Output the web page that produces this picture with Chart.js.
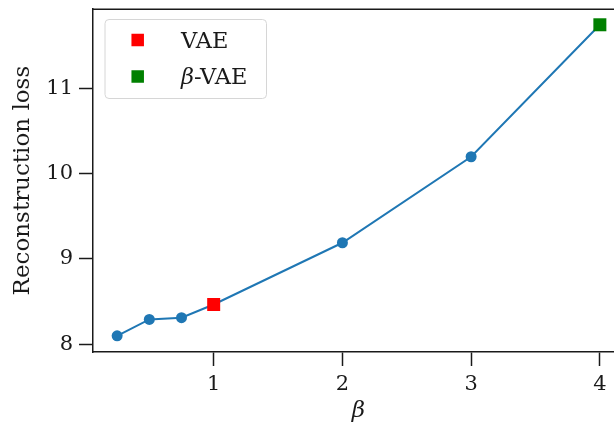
<!DOCTYPE html>
<html>
<head>
<meta charset="utf-8">
<script src="https://cdn.jsdelivr.net/npm/chart.js@4/dist/chart.umd.min.js"></script>
<style>
html,body{margin:0;padding:0;background:#fff;overflow:hidden;width:614px;height:427px;}
#wrap{width:614px;height:427px;overflow:hidden;position:relative;}
canvas{display:block;}
</style>
</head>
<body>
<div id="wrap"><canvas id="c" width="640" height="427" style="width:640px;height:427px"></canvas></div>
<script>
// Data
const betas = [0.25, 0.5, 0.75, 1, 2, 3, 4];
const recLoss = [8.097, 8.29, 8.31, 8.465, 9.19, 10.20, 11.75];
const vaePoint = [{x: 1, y: 8.465}];
const betaVaePoint = [{x: 4, y: 11.75}];
const xTicks = [1, 2, 3, 4];
const yTicks = [8, 9, 10, 11];
const seriesLabels = ['VAE', 'β-VAE'];

const FONT = "'DejaVu Serif', serif";
const INK = '#1a1a1a';

const spinePlugin = {
  id: 'spines',
  afterDatasetsDraw(chart) {
    const {ctx, chartArea} = chart;
    ctx.save();
    ctx.strokeStyle = INK;
    ctx.lineWidth = 1.5;
    ctx.beginPath();
    ctx.moveTo(chartArea.left - 0.75, chartArea.top);
    ctx.lineTo(chartArea.right, chartArea.top);
    ctx.stroke();
    ctx.restore();
  }
};

const legendPlugin = {
  id: 'boxLegend',
  afterDraw(chart) {
    const ctx = chart.ctx;
    const ds = chart.data.datasets.filter(d => d.showInLegend);
    const bx = 104.5, by = 19, bw = 161.5, bh = 79, r = 4;
    ctx.save();
    ctx.fillStyle = 'rgba(255,255,255,0.8)';
    ctx.strokeStyle = '#d6d6d6';
    ctx.lineWidth = 1;
    ctx.beginPath();
    ctx.roundRect(bx + 0.5, by + 0.5, bw, bh, r);
    ctx.fill();
    ctx.stroke();
    ds.forEach((d, i) => {
      const cy = 40 + i * 36.5;
      const cx = 137.7;
      const s = 12.5;
      ctx.fillStyle = d.backgroundColor;
      ctx.fillRect(cx - s / 2, cy - s / 2, s, s);
      ctx.fillStyle = INK;
      ctx.textBaseline = 'alphabetic';
      ctx.textAlign = 'left';
      let x = 181;
      const baseY = cy + 7.5;
      const label = d.label;
      if (label.startsWith('β')) {
        ctx.font = "italic 22.5px " + FONT;
        ctx.fillText('β', x, baseY);
        x += ctx.measureText('β').width;
        ctx.font = "22.5px " + FONT;
        ctx.fillText(label.slice(1), x, baseY);
      } else {
        ctx.font = "22.5px " + FONT;
        ctx.fillText(label, x, baseY);
      }
    });
    ctx.restore();
  }
};

const SQ = 6.5 * Math.SQRT2; // rect radius giving a 13px square

new Chart(document.getElementById('c'), {
  type: 'scatter',
  data: {
    datasets: [
      {
        label: 'VAE',
        showInLegend: true,
        data: vaePoint,
        backgroundColor: '#ff0000',
        borderColor: '#ff0000',
        pointStyle: 'rect',
        pointRadius: SQ,
        borderWidth: 0,
        order: 0,
        clip: false
      },
      {
        label: 'β-VAE',
        showInLegend: true,
        data: betaVaePoint,
        backgroundColor: '#008000',
        borderColor: '#008000',
        pointStyle: 'rect',
        pointRadius: SQ,
        borderWidth: 0,
        order: 0,
        clip: false
      },
      {
        label: 'curve',
        showInLegend: false,
        data: betas.map((b, i) => ({x: b, y: recLoss[i]})),
        showLine: true,
        borderColor: '#1f77b4',
        backgroundColor: '#1f77b4',
        borderWidth: 2,
        pointRadius: 5.5,
        pointBorderWidth: 0,
        order: 1,
        clip: false
      }
    ]
  },
  options: {
    responsive: false,
    animation: false,
    events: [],
    layout: {padding: {top: 7, right: 16, left: 0, bottom: 0}},
    plugins: {legend: {display: false}, tooltip: {enabled: false}},
    scales: {
      x: {
        type: 'linear',
        min: 0.0625,
        max: 4.1875,
        afterBuildTicks(s) { s.ticks = xTicks.map(v => ({value: v})); },
        afterFit(s) { s.height = 75; s.paddingLeft = 0; s.paddingRight = 0; },
        border: {display: true, color: INK, width: 1.5},
        grid: {drawOnChartArea: false, drawTicks: true, tickLength: 14, tickColor: INK, tickWidth: 1.5},
        ticks: {color: INK, padding: 6, font: {family: FONT, size: 21}, maxRotation: 0},
        title: {display: true, text: 'β', color: INK, font: {family: FONT, size: 23, style: 'italic'}, padding: {top: 0, bottom: 2}}
      },
      y: {
        type: 'linear',
        min: 7.907,
        max: 11.933,
        afterBuildTicks(s) { s.ticks = yTicks.map(v => ({value: v})); },
        afterFit(s) { s.width = 93; s.paddingTop = 0; s.paddingBottom = 0; },
        border: {display: true, color: INK, width: 1.5},
        grid: {drawOnChartArea: false, drawTicks: true, tickLength: 14, tickColor: INK, tickWidth: 1.5},
        ticks: {color: INK, padding: 6, font: {family: FONT, size: 21}},
        title: {display: true, text: 'Reconstruction loss', color: INK, font: {family: FONT, size: 23}, padding: {top: 9, bottom: 0}}
      }
    }
  },
  plugins: [spinePlugin, legendPlugin]
});
</script>
</body>
</html>
